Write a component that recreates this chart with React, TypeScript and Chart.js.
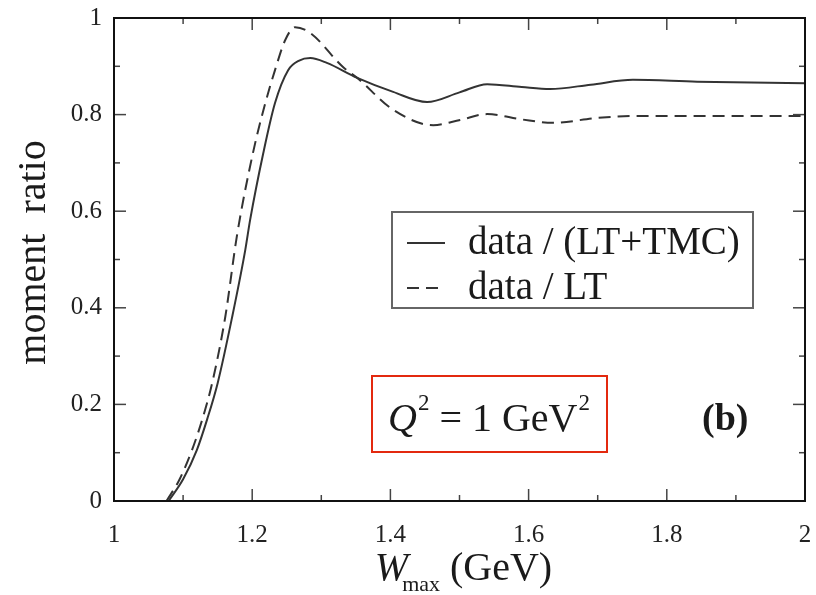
import React, { useEffect, useRef } from "react";
import { Chart, registerables } from "chart.js";

Chart.register(...registerables);

// ---------- data ----------
const ltTmcW = [1.079, 1.1, 1.12, 1.135, 1.15, 1.171, 1.19, 1.197, 1.216, 1.233, 1.252, 1.268, 1.284, 1.308, 1.352, 1.404, 1.453, 1.5, 1.54, 1.59, 1.631, 1.69, 1.751, 1.844, 2.0];
const ltTmcRatio = [0, 0.045, 0.106, 0.17, 0.244, 0.381, 0.52, 0.582, 0.72, 0.824, 0.892, 0.912, 0.917, 0.907, 0.876, 0.847, 0.826, 0.846, 0.863, 0.857, 0.853, 0.862, 0.872, 0.868, 0.865];

const ltW = [1.076, 1.095, 1.113, 1.128, 1.142, 1.161, 1.178, 1.201, 1.219, 1.233, 1.248, 1.262, 1.284, 1.331, 1.352, 1.404, 1.462, 1.501, 1.54, 1.59, 1.635, 1.699, 1.751, 2.0];
const ltRatio = [0, 0.045, 0.106, 0.17, 0.244, 0.381, 0.55, 0.72, 0.824, 0.892, 0.955, 0.981, 0.969, 0.899, 0.876, 0.81, 0.778, 0.789, 0.801, 0.79, 0.783, 0.793, 0.797, 0.797];

const seriesLabels = ["data / (LT+TMC)", "data / LT"];
const xTickValues = [1, 1.2, 1.4, 1.6, 1.8, 2];
const yTickValues = [0, 0.2, 0.4, 0.6, 0.8, 1];
const xMinorStep = 0.1;
const yMinorStep = 0.1;
const yTitle = "moment  ratio";
const xTitleMain = "W";
const xTitleSub = "max";
const xTitleUnit = " (GeV)";
const boxQ = "Q";
const boxSup = "2";
const boxMid = " = 1 GeV";
const panelLabel = "(b)";

const SERIF = '"Liberation Serif", "DejaVu Serif", Times, serif';

const decorPlugin = {
  id: "decor",
  afterDatasetsDraw(chart: any) {
    const { ctx, chartArea: a, scales } = chart;
    const xs = scales.x;
    const ys = scales.y;
    ctx.save();

    // inward tick marks on all four sides
    ctx.strokeStyle = "#444";
    ctx.lineWidth = 1.5;
    const line = (x1: number, y1: number, x2: number, y2: number) => {
      ctx.beginPath();
      ctx.moveTo(x1, y1);
      ctx.lineTo(x2, y2);
      ctx.stroke();
    };
    const isMajor = (v: number, arr: number[]) => arr.some((t) => Math.abs(t - v) < 1e-6);
    for (let v = xs.min; v <= xs.max + 1e-9; v += xMinorStep) {
      const px = xs.getPixelForValue(v);
      const L = isMajor(v, xTickValues) ? 12 : 6;
      line(px, a.bottom, px, a.bottom - L);
      line(px, a.top, px, a.top + L);
    }
    for (let v = ys.min; v <= ys.max + 1e-9; v += yMinorStep) {
      const py = ys.getPixelForValue(v);
      const L = isMajor(v, yTickValues) ? 12 : 6;
      line(a.left, py, a.left + L, py);
      line(a.right, py, a.right - L, py);
    }

    // frame
    ctx.strokeStyle = "#111";
    ctx.lineWidth = 2;
    ctx.strokeRect(a.left, a.top, a.right - a.left, a.bottom - a.top);

    // y title
    ctx.fillStyle = "#1a1a1a";
    ctx.font = `40px ${SERIF}`;
    ctx.textAlign = "center";
    ctx.textBaseline = "middle";
    ctx.save();
    ctx.translate(34, (a.top + a.bottom) / 2 - 7);
    ctx.rotate(-Math.PI / 2);
    ctx.fillText(yTitle, 0, 0);
    ctx.restore();

    // x title with subscript
    ctx.textAlign = "left";
    ctx.textBaseline = "alphabetic";
    const fMain = `italic 40px ${SERIF}`;
    const fSub = `22px ${SERIF}`;
    const fUnit = `40px ${SERIF}`;
    ctx.font = fMain;
    const wW = ctx.measureText(xTitleMain).width;
    ctx.font = fSub;
    const wS = ctx.measureText(xTitleSub).width;
    ctx.font = fUnit;
    const wU = ctx.measureText(xTitleUnit).width;
    const total = wW + wS + wU - 6;
    let tx = (a.left + a.right) / 2 - total / 2 + 4;
    const baseY = 580;
    ctx.font = fMain;
    ctx.fillText(xTitleMain, tx, baseY);
    tx += wW - 6;
    ctx.font = fSub;
    ctx.fillText(xTitleSub, tx, baseY + 11);
    tx += wS;
    ctx.font = fUnit;
    ctx.fillText(xTitleUnit, tx, baseY);

    // legend box
    const lx = 392, ly = 212, lw = 361, lh = 96;
    ctx.fillStyle = "#fff";
    ctx.fillRect(lx, ly, lw, lh);
    ctx.strokeStyle = "#666";
    ctx.lineWidth = 2;
    ctx.strokeRect(lx, ly, lw, lh);
    chart.data.datasets.forEach((ds: any, i: number) => {
      const ry = ly + 31 + i * 45;
      ctx.strokeStyle = ds.borderColor;
      ctx.lineWidth = ds.borderWidth;
      ctx.setLineDash(ds.borderDash || []);
      ctx.beginPath();
      ctx.moveTo(lx + 15, ry);
      ctx.lineTo(lx + 53, ry);
      ctx.stroke();
      ctx.setLineDash([]);
      ctx.fillStyle = "#1a1a1a";
      ctx.font = `39px ${SERIF}`;
      ctx.textBaseline = "middle";
      ctx.fillText(ds.label, lx + 76, ry + 1);
    });

    // Q^2 annotation box
    ctx.strokeStyle = "#e3290f";
    ctx.lineWidth = 2;
    ctx.strokeRect(372, 376, 235, 76);
    ctx.fillStyle = "#1a1a1a";
    ctx.textBaseline = "alphabetic";
    let qx = 388;
    const qBase = 431;
    ctx.font = `italic 40px ${SERIF}`;
    ctx.fillText(boxQ, qx, qBase);
    qx += ctx.measureText(boxQ).width + 1;
    ctx.font = `23px ${SERIF}`;
    ctx.fillText(boxSup, qx, qBase - 21);
    qx += ctx.measureText(boxSup).width;
    ctx.font = `40px ${SERIF}`;
    ctx.fillText(boxMid, qx, qBase);
    qx += ctx.measureText(boxMid).width + 1;
    ctx.font = `23px ${SERIF}`;
    ctx.fillText(boxSup, qx, qBase - 21);

    // panel label
    ctx.font = `bold 38px ${SERIF}`;
    ctx.fillText(panelLabel, 702, 430);

    ctx.restore();
  },
};

export default function App() {
  const ref = useRef<HTMLCanvasElement | null>(null);

  useEffect(() => {
    if (!ref.current) return;
    const lineColor = "#333";
    const chart = new Chart(ref.current, {
      type: "line",
      data: {
        datasets: [
          {
            label: seriesLabels[0],
            data: ltTmcW.map((x, i) => ({ x, y: ltTmcRatio[i] })),
            borderColor: lineColor,
            borderWidth: 2,
            pointRadius: 0,
            cubicInterpolationMode: "monotone",
            fill: false,
          },
          {
            label: seriesLabels[1],
            data: ltW.map((x, i) => ({ x, y: ltRatio[i] })),
            borderColor: lineColor,
            borderWidth: 2,
            borderDash: [12, 7],
            pointRadius: 0,
            cubicInterpolationMode: "monotone",
            fill: false,
          },
        ],
      },
      options: {
        responsive: false,
        animation: false,
        layout: { padding: { top: 18, right: 11, bottom: 0, left: 0 } },
        plugins: {
          legend: { display: false },
          tooltip: { enabled: false },
        },
        scales: {
          x: {
            type: "linear",
            min: 1,
            max: 2,
            grid: { display: false, drawTicks: false },
            border: { display: false },
            afterBuildTicks: (s: any) => {
              s.ticks = xTickValues.map((v) => ({ value: v }));
            },
            afterFit: (s: any) => {
              s.height = 94;
              s.paddingLeft = 0;
              s.paddingRight = 0;
            },
            ticks: {
              padding: 19,
              color: "#222",
              font: { family: SERIF, size: 25 },
              maxRotation: 0,
              autoSkip: false,
              callback: (v: any) => String(Math.round(Number(v) * 10) / 10),
            },
          },
          y: {
            type: "linear",
            min: 0,
            max: 1,
            grid: { display: false, drawTicks: false },
            border: { display: false },
            afterBuildTicks: (s: any) => {
              s.ticks = yTickValues.map((v) => ({ value: v }));
            },
            afterFit: (s: any) => {
              s.width = 114;
              s.paddingTop = 0;
              s.paddingBottom = 0;
            },
            ticks: {
              padding: 12,
              color: "#222",
              font: { family: SERIF, size: 25 },
              autoSkip: false,
              callback: (v: any) => String(Math.round(Number(v) * 10) / 10),
            },
          },
        },
      },
      plugins: [decorPlugin],
    } as any);
    return () => chart.destroy();
  }, []);

  return (
    <div style={{ position: "fixed", left: 0, top: 0, width: 816, height: 595, background: "#fff" }}>
      <canvas ref={ref} width={816} height={595} style={{ display: "block", width: 816, height: 595 }} />
    </div>
  );
}
